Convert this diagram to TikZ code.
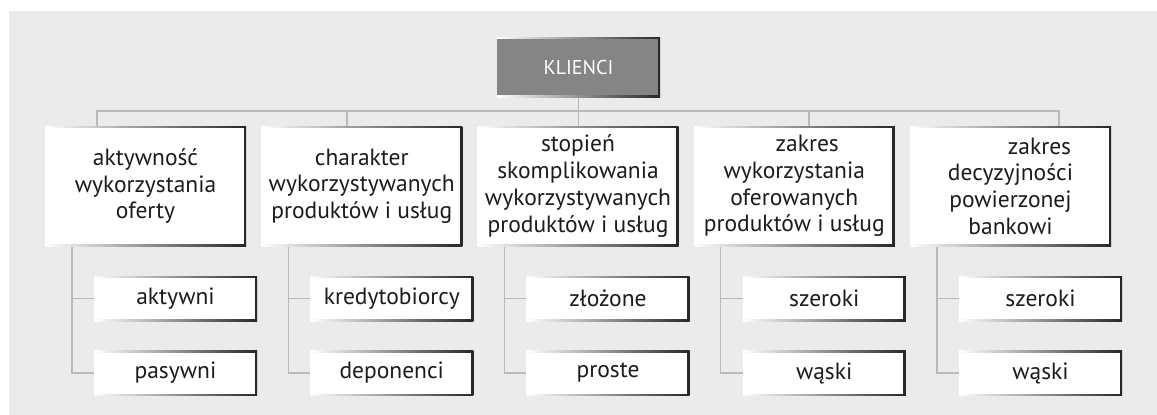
\documentclass[tikz,border=0pt]{standalone}
\usepackage{fontspec}
\setmainfont{PT Sans}
\definecolor{bggray}{RGB}{235,235,235}
\definecolor{linegray}{RGB}{185,185,185}
\definecolor{headgray}{RGB}{133,133,133}
\definecolor{txt}{RGB}{28,28,28}
\pgfdeclarelayer{bg}
\pgfdeclarelayer{lines}
\pgfsetlayers{bg,lines,main}
\tikzset{
  framed/.style={fill=white, inner sep=0pt, align=center,
    path picture={
      \shade[left color=white, middle color=black!28, right color=black!85]
        (path picture bounding box.south west) rectangle (path picture bounding box.north east);
      \fill[#1] ([shift={(0pt,-2pt)}]path picture bounding box.north west)
        rectangle ([shift={(-2.5pt,2pt)}]path picture bounding box.south east);
    }},
  headbox/.style={framed=headgray, text=white, font=\fontsize{20}{24}\selectfont,
    minimum width=163pt, minimum height=60pt},
  catbox/.style={framed=white, text=txt, font=\fontsize{23.5}{26.7}\selectfont,
    minimum width=201pt, minimum height=120pt},
  subbox/.style={framed=white, text=txt, font=\fontsize{23.5}{26.7}\selectfont,
    minimum width=163pt, minimum height=45pt},
  link/.style={draw=linegray, line width=1.3pt},
}
\begin{document}
\begin{tikzpicture}[x=1pt, y=-1pt]
\useasboundingbox (0,0) rectangle (1157,415);
\begin{pgfonlayer}{bg}
  \fill[bggray] (9,11) rectangle (1157,415);
\end{pgfonlayer}

% root
\node[headbox] (root) at (578.5,67) {KLIENCI};

% categories
\node[catbox] (c1) at (145.5,186) {aktywność\\wykorzystania\\oferty};
\node[catbox] (c2) at (361.75,186) {charakter\\wykorzystywanych\\produktów i usług};
\node[catbox] (c3) at (578,186) {stopień\\skomplikowania\\wykorzystywanych\\produktów i usług};
\node[catbox] (c4) at (794.25,186) {\hspace*{26pt}zakres\\wykorzystania\\oferowanych\\produktów i usług};
\node[catbox] (c5) at (1010.5,186) {\hspace*{58pt}zakres\\decyzyjności\\powierzonej\\bankowi};

% values
\node[subbox] (s1a) at (175.5,298.5) {aktywni};
\node[subbox] (s1b) at (175.5,373) {pasywni};
\node[subbox] (s2a) at (391.75,298.5) {kredytobiorcy};
\node[subbox] (s2b) at (391.75,373) {deponenci};
\node[subbox] (s3a) at (608,298.5) {złożone};
\node[subbox] (s3b) at (608,373) {proste};
\node[subbox] (s4a) at (824.25,298.5) {szeroki};
\node[subbox] (s4b) at (824.25,373) {wąski};
\node[subbox] (s5a) at (1040.5,298.5) {szeroki};
\node[subbox] (s5b) at (1040.5,373) {wąski};

% bus
\coordinate (busL) at (97,111);
\coordinate (busR) at (1059,111);
\coordinate (d2) at (347,111);
\coordinate (d4) at (809,111);

\begin{pgfonlayer}{lines}
  \draw[link] (busL |- c1.north) -- (busL) -- (busR) -- (busR |- c5.north);
  \draw[link] (d2) -- (d2 |- c2.north);
  \draw[link] (d4) -- (d4 |- c4.north);
  \draw[link] (root.south) -- (root.south |- c3.north);
  % branches to the values
  \foreach \c/\a/\b in {c1/s1a/s1b, c2/s2a/s2b, c3/s3a/s3b, c4/s4a/s4b, c5/s5a/s5b} {
    \draw[link] ([xshift=-73.5pt]\c.south |- \c.south) |- ([xshift=3pt]\b.west);
    \draw[link] ([xshift=-73.5pt]\c.south |- \a.west) -- ([xshift=3pt]\a.west);
  }
\end{pgfonlayer}
\end{tikzpicture}
\end{document}
